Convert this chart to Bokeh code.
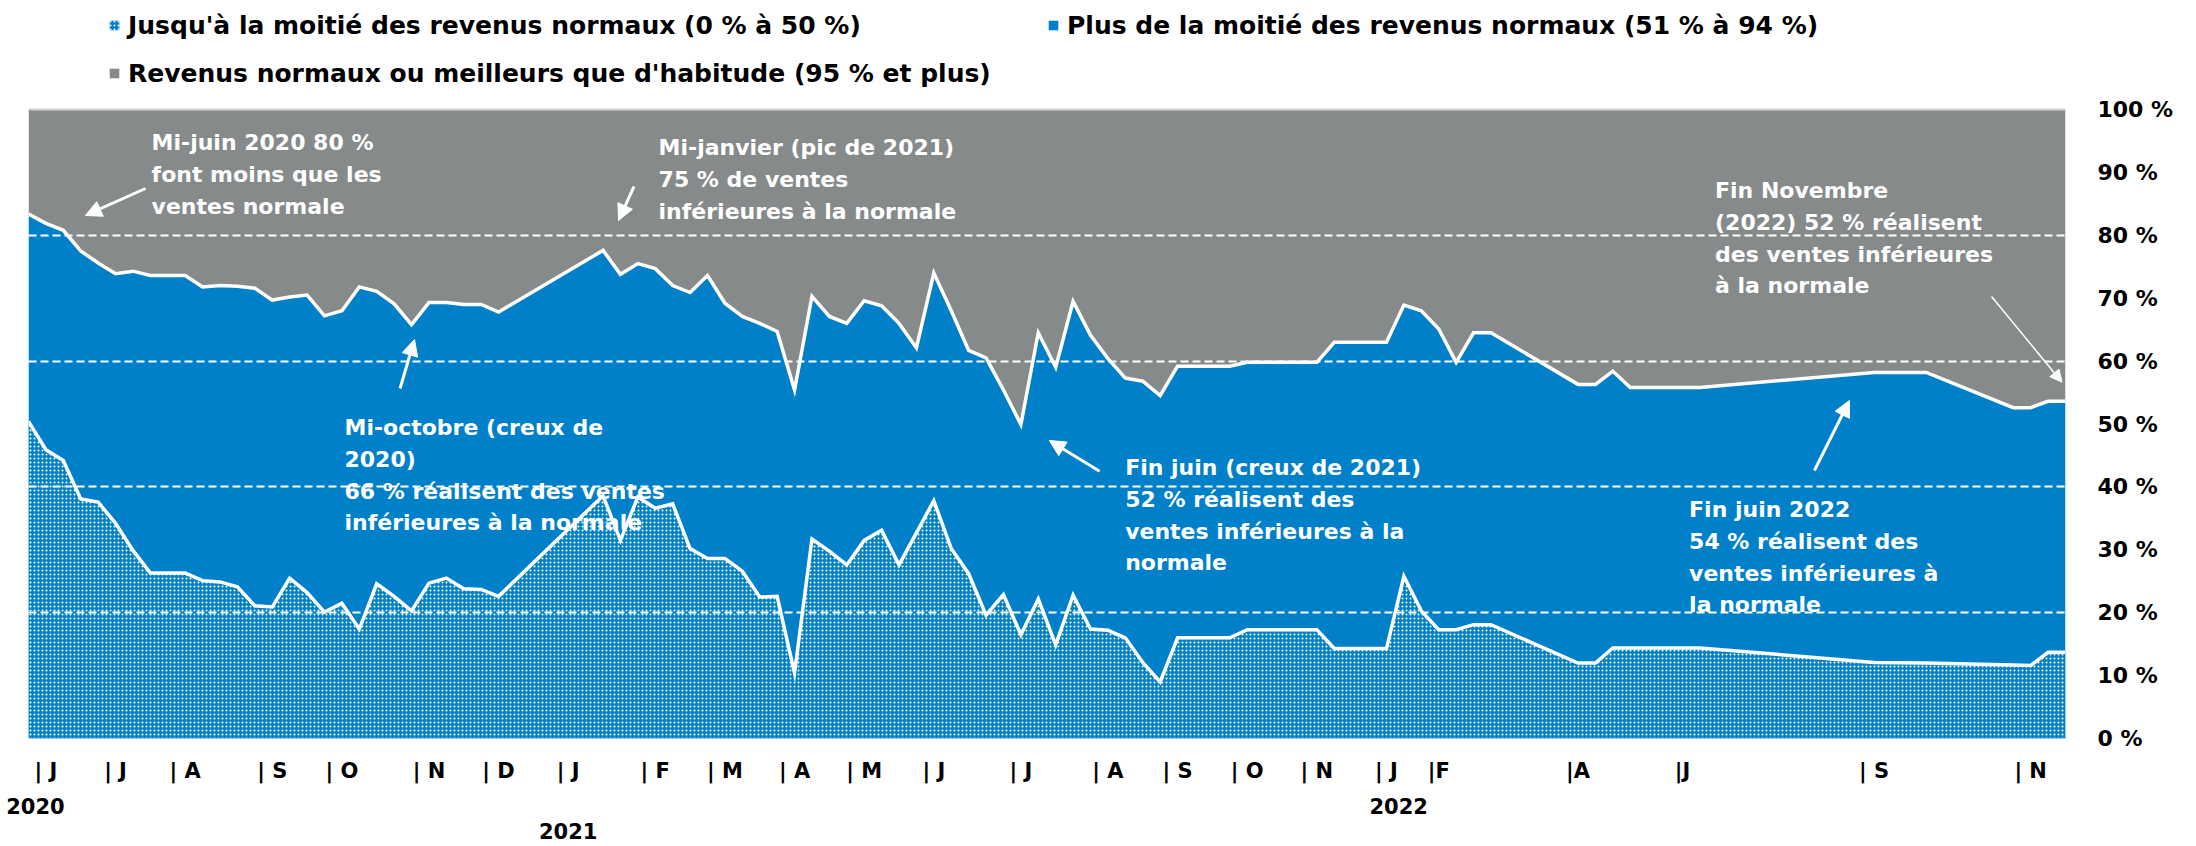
from bokeh.plotting import figure
from bokeh.models import (Range1d, LinearAxis, FixedTicker, Grid, Legend, LegendItem,
                          Arrow, NormalHead, ColumnDataSource, Span)
from bokeh.core.properties import value
from bokeh.embed import file_html
from bokeh.resources import INLINE

# ---------------- data ----------------
# survey number (category position) of each point where a series changes slope
survey_idx = [0, 1, 2, 3, 4, 5, 6, 7, 8, 9, 10, 11, 12, 13, 14, 15, 16, 17, 18, 19,
              20, 21, 22, 23, 24, 25, 26, 27,
              33, 34, 35, 36, 37, 38, 39, 40, 41, 42, 43, 44, 45, 46, 47, 48, 49, 50,
              51, 52, 53, 54, 55, 56, 57, 58, 59, 60, 61, 62, 63, 64, 65, 66,
              69, 70, 74, 75, 78, 79, 80, 81, 82, 83, 84, 89, 90, 91, 92, 96,
              106, 109, 114, 115, 116, 117]

# share of businesses with sales below normal (0 % to 94 % of normal revenue)
below_normal = [83.4, 81.9, 80.8, 77.5, 75.6, 73.9, 74.3, 73.6, 73.6, 73.6, 71.8, 72.0,
                71.9, 71.6, 69.7, 70.2, 70.5, 67.2, 68.0, 71.8, 71.1, 69.1, 65.8, 69.3,
                69.3, 69.0, 69.0, 67.8,
                77.6, 73.8, 75.5, 74.7, 72.0, 70.9, 73.6, 69.2, 67.1, 66.0, 64.7, 55.4,
                70.3, 67.1, 66.0, 69.6, 68.8, 66.0, 62.1, 74.0, 68.0, 61.7, 60.5, 55.4,
                49.9, 64.5, 59.0, 69.5, 64.1, 60.4, 57.3, 56.8, 54.5, 59.2,
                59.2, 59.8, 59.8, 63.0, 63.0, 68.9, 68.0, 65.1, 59.8, 64.5, 64.5, 56.3,
                56.3, 58.4, 55.8, 55.8,
                58.2, 58.2, 52.6, 52.6, 53.6, 53.6]

# share of businesses earning up to half of normal revenue (0 % to 50 %)
half_or_less = [50.4, 45.9, 44.2, 38.1, 37.6, 34.2, 29.9, 26.3, 26.3, 26.3, 25.1, 24.9,
                24.1, 21.1, 20.9, 25.5, 23.2, 20.1, 21.5, 17.4, 24.6, 22.6, 20.3, 24.7,
                25.5, 23.8, 23.7, 22.6,
                38.6, 31.5, 38.4, 36.6, 37.3, 30.2, 28.6, 28.6, 26.6, 22.5, 22.6, 10.4,
                31.7, 29.8, 27.6, 31.5, 33.1, 27.6, 32.7, 37.8, 30.2, 26.2, 19.6, 22.9,
                16.5, 22.2, 14.9, 22.8, 17.4, 17.2, 16.0, 12.1, 9.0, 16.0,
                16.0, 17.3, 17.3, 14.3, 14.3, 25.8, 20.3, 17.3, 17.3, 18.1, 18.1, 12.0,
                12.0, 14.4, 14.4, 14.4,
                12.1, 12.0, 11.7, 11.6, 13.7, 13.7]

series_names = ["Jusqu'à la moitié des revenus normaux (0 % à 50 %)",
                "Plus de la moitié des revenus normaux (51 % à 94 %)",
                "Revenus normaux ou meilleurs que d'habitude (95 % et plus)"]

month_labels = ["| J", "| J", "| A", "| S", "| O", "| N", "| D",
                "| J", "| F", "| M", "| A", "| M", "| J", "| J", "| A", "| S", "| O", "| N",
                "| J", "|F", "|A", "|J", "| S", "| N"]
month_tick_idx = [1, 5, 9, 14, 18, 23, 27,
                  31, 36, 40, 44, 48, 52, 57, 62, 66, 70, 74,
                  78, 81, 89, 95, 106, 115]
year_labels = ["2020", "2021", "2022"]
year_tick_idx = [0.4, 31, 78.7]

y_ticks = [0, 10, 20, 30, 40, 50, 60, 70, 80, 90, 100]
grid_ticks = [20, 40, 60, 80]

notes = ["Mi-juin 2020 80 %\nfont moins que les\nventes normale",
         "Mi-janvier (pic de 2021)\n75 % de ventes\ninférieures à la normale",
         "Mi-octobre (creux de\n2020)\n66 % réalisent des ventes\ninférieures à la normale",
         "Fin juin (creux de 2021)\n52 % réalisent des\nventes inférieures à la\nnormale",
         "Fin Novembre\n(2022) 52 % réalisent\ndes ventes inférieures\nà la normale",
         "Fin juin 2022\n54 % réalisent des\nventes inférieures à\nla normale"]
note_x = [7.07, 36.19, 18.15, 62.99, 96.87, 95.38]
note_y = [94.75, 93.96, 49.44, 43.08, 87.12, 36.41]

arrow_x0 = [6.72, 34.78, 21.34, 61.52, 112.75, 102.58]
arrow_y0 = [87.44, 87.76, 55.64, 42.50, 70.27, 42.61]
arrow_x1 = [3.27, 33.89, 22.17, 58.63, 116.80, 104.59]
arrow_y1 = [83.15, 82.35, 63.43, 47.38, 56.65, 53.74]

# ---------------- style ----------------
BLUE = "#0080C8"
GRAY = "#868A8B"
FONT = "DejaVu Sans"
LINE_PITCH = 31.8
Y_TOP = 117.33   # white band above 100 % that holds the legend

p = figure(width=2180, height=846, output_backend="svg", toolbar_location=None,
           x_range=Range1d(0, 117), y_range=Range1d(0, Y_TOP),
           x_axis_location=None, y_axis_location=None,
           min_border_left=28, min_border_right=115, min_border_top=0,
           min_border_bottom=108, outline_line_color=None,
           background_fill_color="white", border_fill_color="white")
p.xgrid.visible = False
p.ygrid.visible = False

r_top = p.varea(x=survey_idx, y1=below_normal, y2=100, fill_color=GRAY)
r_mid = p.varea(x=survey_idx, y1=0, y2=below_normal, fill_color=BLUE)
r_low = p.varea(x=survey_idx, y1=0, y2=half_or_less, fill_color=BLUE,
                hatch_pattern="dot", hatch_color="white", hatch_scale=4, hatch_alpha=1.0)
p.line(survey_idx, below_normal, line_color="white", line_width=3.5, line_join="miter")
p.line(survey_idx, half_or_less, line_color="white", line_width=3.5, line_join="miter")

p.add_layout(Span(location=100, dimension="width", line_color="#d0d0d0", line_width=2))

grid = Grid(dimension=1, ticker=FixedTicker(ticks=grid_ticks), grid_line_color="white",
            grid_line_width=2.2, grid_line_dash="8 4")
grid.level = "overlay"
p.add_layout(grid)

# right axis
yax = LinearAxis(ticker=FixedTicker(ticks=y_ticks),
                 major_label_overrides={t: f"{t} %" for t in y_ticks},
                 axis_line_color=None, major_tick_line_color=None,
                 minor_tick_line_color=None, major_label_standoff=26,
                 major_label_text_font=FONT, major_label_text_font_style="bold",
                 major_label_text_font_size="22px", major_label_text_color="black")
p.add_layout(yax, "right")


def make_xaxis(ticks, labels, standoff):
    return LinearAxis(ticker=FixedTicker(ticks=ticks),
                      major_label_overrides={t: l for t, l in zip(ticks, labels)},
                      axis_line_color=None, major_tick_line_color=None,
                      minor_tick_line_color=None, major_label_standoff=standoff,
                      major_label_text_font=FONT, major_label_text_font_style="bold",
                      major_label_text_font_size="21px", major_label_text_color="black")


p.add_layout(make_xaxis(month_tick_idx, month_labels, 14), "below")
p.add_layout(make_xaxis([year_tick_idx[0], year_tick_idx[2]],
                        [year_labels[0], year_labels[2]], 6), "below")
p.add_layout(make_xaxis([year_tick_idx[1]], [year_labels[1]], 0), "below")

# annotations
rows = dict(x=[], y=[], text=[], yoff=[])
for t, x, y in zip(notes, note_x, note_y):
    for k, line in enumerate(t.split("\n")):
        rows["x"].append(x)
        rows["y"].append(y)
        rows["text"].append(line)
        rows["yoff"].append(k * LINE_PITCH)
p.text(x="x", y="y", text="text", y_offset="yoff", source=ColumnDataSource(rows),
       text_color="white", text_font=value(FONT), text_font_style="bold",
       text_font_size="22px", text_baseline="middle", text_align="left")

for i in range(len(arrow_x0)):
    thin = (i == 4)
    p.add_layout(Arrow(x_start=arrow_x0[i], y_start=arrow_y0[i],
                       x_end=arrow_x1[i], y_end=arrow_y1[i],
                       line_color="white", line_width=1.5 if thin else 3,
                       end=NormalHead(size=12 if thin else 16, fill_color="white",
                                      line_color="white", line_width=1)))

legend_style = dict(label_text_font=FONT, label_text_font_style="bold",
                    label_text_font_size="25px", label_text_color="black",
                    glyph_width=12, glyph_height=12, label_standoff=8,
                    label_height=30, label_width=899, spacing=20, padding=0, margin=0,
                    border_line_color=None, background_fill_alpha=0)
legend1 = Legend(items=[LegendItem(label=series_names[0], renderers=[r_low]),
                        LegendItem(label=series_names[1], renderers=[r_mid])],
                 orientation="horizontal", location=(80, 698), **legend_style)
legend2 = Legend(items=[LegendItem(label=series_names[2], renderers=[r_top])],
                 orientation="horizontal", location=(80, 650), **legend_style)
p.add_layout(legend1)
p.add_layout(legend2)

open("out.html", "w").write(file_html(p, INLINE))
